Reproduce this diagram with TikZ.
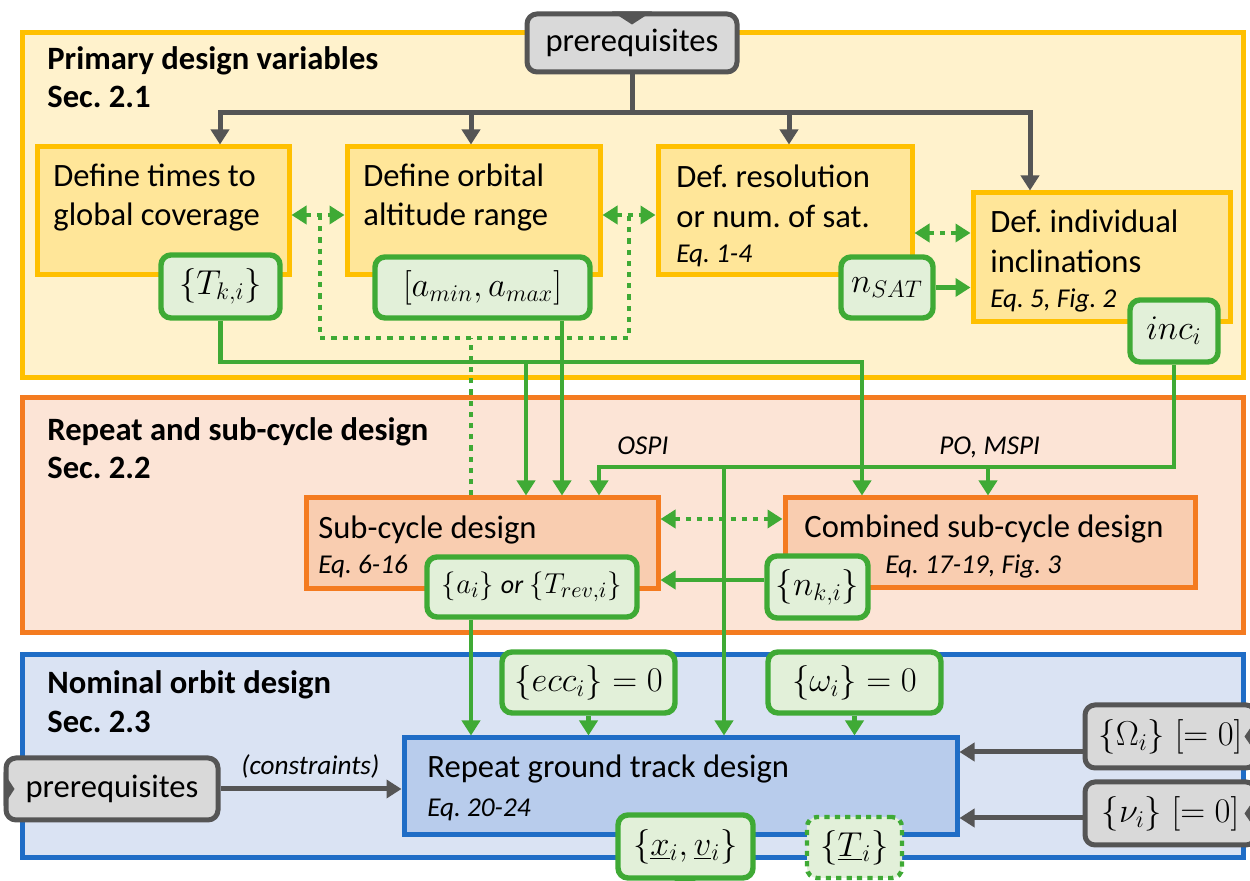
\documentclass[tikz,border=0pt]{standalone}
\usepackage{fontspec}
\setmainfont{Carlito}
\frenchspacing
\usetikzlibrary{arrows.meta,calc}
\definecolor{ypanel}{HTML}{FFF2CC}
\definecolor{yline}{HTML}{FFC000}
\definecolor{yboxc}{HTML}{FFE699}
\definecolor{opanel}{HTML}{FCE4D6}
\definecolor{oline}{HTML}{F47B20}
\definecolor{oboxc}{HTML}{F9CDB0}
\definecolor{bpanel}{HTML}{DAE3F3}
\definecolor{bline}{HTML}{1F6DC6}
\definecolor{bboxc}{HTML}{B8CCEC}
\definecolor{gline}{HTML}{3FAA35}
\definecolor{gfill}{HTML}{E2F0D9}
\definecolor{grfill}{HTML}{D9D9D9}
\definecolor{grline}{HTML}{555555}
\newcommand\boxnode[7]{\node[#2, inner sep=0pt, minimum width={(#5-#3)*0.5pt}, minimum height={(#6-#4)*0.5pt}] (#1) at ({(#3+#5)/2},{(#4+#6)/2}) {#7};}
\tikzset{
  panel/.style={draw, line width=2.5pt},
  ybx/.style={draw=yline, fill=yboxc, line width=2.5pt},
  obx/.style={draw=oline, fill=oboxc, line width=2.5pt},
  bbx/.style={draw=bline, fill=bboxc, line width=2.5pt},
  gbx/.style={draw=gline, fill=gfill, line width=2.7pt, rounded corners=5pt, font=\fontsize{16.5}{19}\selectfont},
  grbx/.style={draw=grline, fill=grfill, line width=2.5pt, rounded corners=5pt, font=\fontsize{16.3}{19}\selectfont},
  txt/.style={anchor=base west, inner sep=0pt, font=\fontsize{16.3}{19}\selectfont},
  ttl/.style={anchor=base west, inner sep=0pt, font=\fontsize{16.3}{19}\selectfont\bfseries},
  eqt/.style={anchor=base west, inner sep=0pt, font=\fontsize{13.6}{16}\selectfont\itshape},
  gln/.style={draw=gline, line width=2.2pt},
  garrow/.style={gln, -{Triangle[length=7.5pt,width=9pt]}},
  gdot/.style={draw=gline, line width=2.2pt, dash pattern=on 2.6pt off 3pt},
  gdarrow/.style={gdot, {Triangle[length=7.5pt,width=9pt]}-{Triangle[length=7.5pt,width=9pt]}},
  grarrow/.style={draw=grline, line width=2.5pt, -{Triangle[length=7.5pt,width=9pt]}},
}
\begin{document}
\begin{tikzpicture}[x=0.5pt,y=-0.5pt]
\fill[white] (0,0) rectangle (1250,881);
\useasboundingbox (0,0) rectangle (1250,881);
% panels
\boxnode{P1}{panel,draw=yline,fill=ypanel}{22}{33}{1243}{378}{}
\boxnode{P2}{panel,draw=oline,fill=opanel}{22}{398}{1243}{633}{}
\boxnode{P3}{panel,draw=bline,fill=bpanel}{22}{655}{1243}{858}{}
\node[ttl] (t1a) at (47,70) {Primary design variables};
\node[ttl] (t1b) at (47,108) {Sec. 2.1};
\node[ttl] (t2a) at (47,441) {Repeat and sub-cycle design};
\node[ttl] (t2b) at (47,479) {Sec. 2.2};
\node[ttl] (t3a) at (47,694) {Nominal orbit design};
\node[ttl] (t3b) at (47,733) {Sec. 2.3};
% process boxes
\boxnode{b1}{ybx}{37}{147}{289}{275}{}
\boxnode{b2}{ybx}{347}{147}{600}{275}{}
\boxnode{b3}{ybx}{658}{147}{912}{275}{}
\boxnode{b4}{ybx}{973}{193}{1230}{322}{}
\boxnode{sub}{obx}{306}{498}{658}{589}{}
\boxnode{comb}{obx}{785}{498}{1195}{588}{}
\boxnode{rep}{bbx}{404}{738}{957}{835}{}
\node[txt] (b1l1) at (53,187) {Define times to};
\node[txt] (b1l2) at (53,226) {global coverage};
\node[txt] (b2l1) at (363,187) {Define orbital};
\node[txt] (b2l2) at (363,226) {altitude range};
\node[txt] (b3l1) at (676,188) {Def. resolution};
\node[txt] (b3l2) at (676,228) {or num. of sat.};
\node[eqt] (b3l3) at (676,263) {Eq. 1-4};
\node[txt] (b4l1) at (990,233) {Def. individual};
\node[txt] (b4l2) at (990,273) {inclinations};
\node[eqt] (b4l3) at (990,308) {Eq. 5, Fig. 2};
\node[txt] (subl1) at (318,539) {Sub-cycle design};
\node[eqt] (subl2) at (318,574) {Eq. 6-16};
\node[txt] (combl1) at (804,538) {Combined sub-cycle design};
\node[eqt] (combl2) at (885,574) {Eq. 17-19, Fig. 3};
\node[txt] (repl1) at (427,778) {Repeat ground track design};
\node[eqt] (repl2) at (427,817) {Eq. 20-24};
% gray prerequisite boxes
\boxnode{pre}{grbx}{527}{14}{737}{72}{prerequisites}
\boxnode{preL}{grbx}{6}{758}{218}{820}{prerequisites}
\boxnode{Om}{grbx,font=\fontsize{16.5}{19}\selectfont}{1085}{705}{1256}{768}{$\{\Omega_i\}\;[=0]$}
\boxnode{nu}{grbx,font=\fontsize{16.5}{19}\selectfont}{1085}{782}{1256}{845}{$\{\nu_i\}\;[=0]$}
\fill[grline] ($(pre.north)+(-20,0)$) -- ($(pre.north)+(20,0)$) -- ($(pre.north)+(0,13)$) -- cycle;
\fill[grline] ($(preL.west)+(0,-17)$) -- ($(preL.west)+(0,17)$) -- ($(preL.west)+(11,0)$) -- cycle;
\fill[grline] ($(Om.east)+(-3,-16)$) -- ($(Om.east)+(-3,16)$) -- ($(Om.east)+(-14,0)$) -- cycle;
\fill[grline] ($(nu.east)+(-3,-16)$) -- ($(nu.east)+(-3,16)$) -- ($(nu.east)+(-14,0)$) -- cycle;
% helper coordinates
\coordinate (g1) at (220,113);
\coordinate (g2) at (471,113);
\coordinate (g3) at (789,113);
\coordinate (g4) at (1030,113);
\coordinate (yd) at (0,215);
\coordinate (ydh) at (0,338);
\coordinate (xdl) at (320,0);
\coordinate (xdr) at (629,0);
\coordinate (xd) at (471,0);
\coordinate (y34) at (0,233);
\coordinate (ysc) at (0,519);
\coordinate (yT) at (0,362);
\coordinate (xT) at (862,0);
\coordinate (xs1) at (526,0);
\coordinate (xs2) at (562,0);
\coordinate (xs3) at (599,0);
\coordinate (yI) at (0,467);
\coordinate (xPO) at (988,0);
\coordinate (xO) at (724,0);
\coordinate (ya) at (0,580);
\coordinate (xa) at (471,0);
\coordinate (yO) at (0,752);
\coordinate (yN) at (0,818);
% gray connectors
\draw[grarrow] (pre.south) -- (pre.south |- g1) -| (g1 |- b1.north);
\draw[grarrow] (pre.south |- g1) -| (g4 |- b4.north);
\draw[grarrow] (g2) -- (g2 |- b2.north);
\draw[grarrow] (g3) -- (g3 |- b3.north);
\draw[grarrow] (Om.west |- yO) -- (yO -| rep.east);
\draw[grarrow] (nu.west |- yN) -- (yN -| rep.east);
% green variable boxes
\boxnode{Tk}{gbx}{161}{255}{280}{318}{$\{T_{k,i}\}$}
\boxnode{amm}{gbx}{375}{257}{590}{318}{$[a_{min}, a_{max}]$}
\boxnode{nsat}{gbx}{841}{257}{933}{318}{$n_{SAT}$}
\boxnode{inc}{gbx}{1130}{300}{1218}{362}{$inc_i$}
\boxnode{ai}{gbx,font=\fontsize{15}{18}\selectfont}{427}{557}{637}{617}{$\{a_i\}$ {\fontsize{13}{15}\selectfont\itshape or} $\{T_{rev,i}\}$}
\boxnode{nk}{gbx}{767}{556}{868}{618}{$\{n_{k,i}\}$}
\boxnode{ecc}{gbx}{502}{652}{675}{713}{$\{ecc_i\}=0$}
\boxnode{om}{gbx}{768}{652}{941}{713}{$\{\omega_i\}=0$}
\fill[gline] (673,876) -- (697,876) -- (694,884) -- (676,884) -- cycle;
\boxnode{xv}{gbx}{618}{815}{753}{878}{$\{\underline{x}_i, \underline{v}_i\}$}
\boxnode{Ti}{gbx,dash pattern=on 2.6pt off 2.6pt,line width=2.2pt}{807}{817}{902}{878}{$\{\underline{T}_i\}$}
% green connectors
\draw[gdarrow] (b1.east |- yd) -- (b2.west |- yd);
\draw[gdarrow] (b2.east |- yd) -- (b3.west |- yd);
\draw[gdot] (xdl |- yd) -- (xdl |- ydh) -- (xdr |- ydh) -- (xdr |- yd);
\draw[gdot] (sub.north -| xd) -- (xd |- ydh);
\draw[gdarrow] (b3.east |- y34) -- (b4.west |- y34);
\draw[gdarrow] (sub.east |- ysc) -- (comb.west |- ysc);
\draw[garrow] (nsat.east) -- (nsat.east -| b4.west);
\draw[garrow] (Tk.south) -- (Tk.south |- yT) -| (comb.north -| xT);
\draw[garrow] (xs1 |- yT) -- (xs1 |- sub.north);
\draw[garrow] (amm.south -| xs2) -- (xs2 |- sub.north);
\draw[garrow] (inc.south) -- (inc.south |- yI) -| (sub.north -| xs3);
\draw[garrow] (xPO |- yI) -- (xPO |- comb.north);
\draw[garrow] (xO |- yI) -- (xO |- rep.north);
\draw[garrow] (nk.west |- ya) -- (ya -| sub.east);
\draw[garrow] (ai.south -| xa) -- (xa |- rep.north);
\draw[garrow] (ecc.south) -- (ecc.south |- rep.north);
\draw[garrow] (om.south) -- (om.south |- rep.north);
\draw[grarrow] (preL.east) -- (preL.east -| rep.west);
\node[eqt] (lc) at (241,775) {(constraints)};
\node[eqt] (lo) at (617,455) {OSPI};
\node[eqt] (lp) at (939,455) {PO, MSPI};
\end{tikzpicture}
\end{document}
